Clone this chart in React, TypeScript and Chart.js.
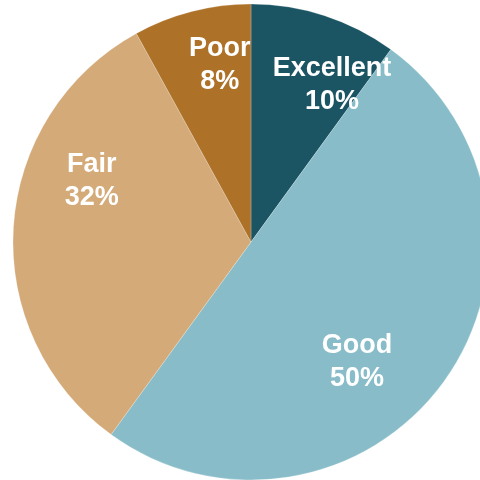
import React, { useEffect, useRef } from "react";
import { Chart, registerables } from "chart.js";

Chart.register(...registerables);

const categories = ["Excellent", "Good", "Fair", "Poor"];
const values = [10, 50, 32, 8];
const percentLabels = ["10%", "50%", "32%", "8%"];
const colors = ["#1b5563", "#87bcc8", "#d3aa78", "#ad7128"];
// label placement tweaks (angle offset in degrees from slice middle, radius fraction)
const labelAngleOffsets = [9, 12, 18, 4.5];
const labelRadiusFractions = [0.75, 0.665, 0.72, 0.765];

const labelPlugin = {
  id: "sliceLabels",
  afterDatasetsDraw(chart: any) {
    const ctx = chart.ctx;
    const meta = chart.getDatasetMeta(0);
    ctx.save();
    ctx.fillStyle = "#ffffff";
    ctx.font = "bold 27px 'Liberation Sans', Arial, sans-serif";
    ctx.textAlign = "center";
    ctx.textBaseline = "middle";
    meta.data.forEach((arc: any, i: number) => {
      const p = arc.getProps(["x", "y", "startAngle", "endAngle", "outerRadius"], true);
      const mid = (p.startAngle + p.endAngle) / 2 + (labelAngleOffsets[i] * Math.PI) / 180;
      const r = p.outerRadius * labelRadiusFractions[i];
      const cx = p.x + Math.cos(mid) * r;
      const cy = p.y + Math.sin(mid) * r + 2;
      ctx.fillText(categories[i], cx, cy - 16.5);
      ctx.fillText(percentLabels[i], cx, cy + 16.5);
    });
    ctx.restore();
  },
};

export default function App() {
  const ref = useRef<HTMLCanvasElement>(null);
  useEffect(() => {
    if (!ref.current) return;
    const chart = new Chart(ref.current, {
      type: "pie",
      data: {
        labels: categories,
        datasets: [
          {
            data: values,
            backgroundColor: colors,
            borderColor: "rgba(255,255,255,0.3)",
            borderWidth: 0.75,
          },
        ],
      },
      options: {
        responsive: false,
        animation: false,
        radius: 238,
        layout: { padding: 0 },
        plugins: { legend: { display: false }, tooltip: { enabled: false } },
      },
      plugins: [labelPlugin],
    });
    return () => chart.destroy();
  }, []);
  return (
    <div
      style={{
        position: "fixed",
        left: 0,
        top: 0,
        width: 480,
        height: 480,
        overflow: "hidden",
        background: "#ffffff",
      }}
    >
      <canvas ref={ref} width={502} height={484} style={{ width: 502, height: 484, display: "block" }} />
    </div>
  );
}
